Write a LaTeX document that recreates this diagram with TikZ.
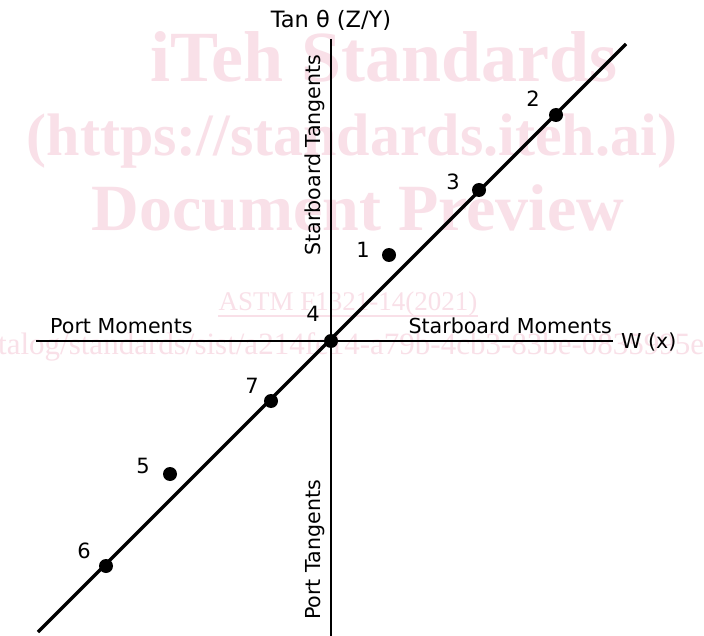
\documentclass[tikz,border=0pt]{standalone}
\usepackage{fontspec}
\setmainfont{DejaVu Sans}
\newfontfamily\wmfont{Liberation Serif}
\definecolor{wmpink}{RGB}{249,224,232}
\begin{document}
\begin{tikzpicture}[x=1pt,y=-1pt,
  axis/.style={line width=1.8pt},
  fitline/.style={line width=3.4pt},
  datapt/.style={circle,fill=black,inner sep=0pt,minimum size=14pt},
  ptlabel/.style={font=\fontsize{21}{21}\selectfont,inner sep=0pt},
  axlabel/.style={font=\fontsize{20.6}{21}\selectfont,inner sep=0pt},
  wm/.style={text=wmpink,inner sep=0pt,anchor=base,font=\wmfont\bfseries}]
\useasboundingbox (0,0) rectangle (704,636);
\fill[white] (0,0) rectangle (704,636);

% background watermark text
\node[wm,font=\wmfont\bfseries\fontsize{72}{72}\selectfont] (wm1) at (384,82) {iTeh Standards};
\node[wm,font=\wmfont\bfseries\fontsize{60}{60}\selectfont] (wm2) at (352,156) {(https://standards.iteh.ai)};
\node[wm,font=\wmfont\bfseries\fontsize{66}{66}\selectfont] (wm3) at (358,231) {Document Preview};
\node[wm,font=\wmfont\fontsize{27}{27}\selectfont] (wm4) at (348,311) {ASTM F1321-14(2021)};
\draw[wmpink,line width=1pt] (wm4.base west)++(0,5) -- (wm4.base east |- 0,316);
\begin{scope}
\clip (0,0) rectangle (704,636);
\node[wm,font=\wmfont\fontsize{31}{31}\selectfont,anchor=base west] (wm5) at (-2,354) {talog/standards/sist/a214fe14-a79b-4cb3-83be-0835995e};
\end{scope}

% axes
\coordinate (o) at (331,341);
\coordinate (ytop) at (331,39);
\coordinate (ybot) at (331,636);
\coordinate (xleft) at (36,341);
\coordinate (xright) at (613,341);
\draw[axis] (ytop) -- (ybot);
\draw[axis] (xleft) -- (xright);

% regression line
\coordinate (lstart) at (38,632);
\coordinate (lend) at (626,44);
\draw[fitline] (lstart) -- (lend);

% axis labels
\node[axlabel,font=\fontsize{22.5}{23}\selectfont] (ttl) at (331,20) {Tan θ (Z/Y)};
\node[axlabel,anchor=west] (wx) at (621,342) {W (x)};
\node[axlabel,anchor=base west] (pm) at (50,334) {Port Moments};
\node[axlabel,anchor=base east] (sm) at (612,334) {Starboard Moments};
\node[axlabel,rotate=90,anchor=base] (st) at (320,155) {Starboard Tangents};
\node[axlabel,rotate=90,anchor=base] (pt) at (320,550) {Port Tangents};

% data points
\node[datapt] (p1) at (389,255) {};
\node[datapt] (p2) at (556,115) {};
\node[datapt] (p3) at (479,190) {};
\node[datapt] (p4) at (331,341) {};
\node[datapt] (p5) at (170,474) {};
\node[datapt] (p6) at (106,566) {};
\node[datapt] (p7) at (271,401) {};

\node[ptlabel] (l1) at (363,250) {1};
\node[ptlabel] (l2) at (533,99) {2};
\node[ptlabel] (l3) at (453,182) {3};
\node[ptlabel] (l4) at (313,314) {4};
\node[ptlabel] (l5) at (143,466) {5};
\node[ptlabel] (l6) at (84,551) {6};
\node[ptlabel] (l7) at (252,386) {7};
\end{tikzpicture}
\end{document}
